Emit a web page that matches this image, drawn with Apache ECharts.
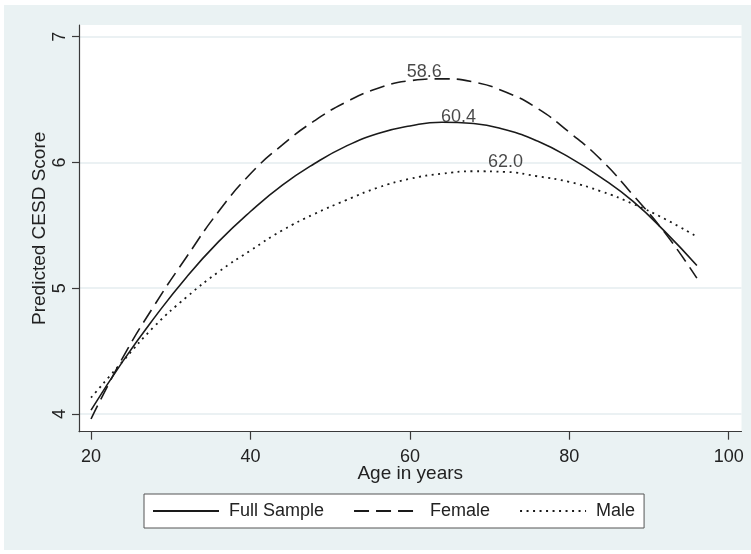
<!DOCTYPE html>
<html><head><meta charset="utf-8">
<script src="https://cdn.jsdelivr.net/npm/echarts@6/dist/echarts.min.js"></script>
<style>
html,body{margin:0;padding:0;background:#fff;}
#main{position:absolute;left:4px;top:5px;width:747px;height:545px;background:#EAF2F3;}
</style></head><body><div id="main"></div>
<script>
const ages       = [20, 24, 28, 32, 36, 40, 44, 48, 52, 56, 60, 64, 68, 72, 76, 80, 84, 88, 92, 96];
const fullSample = [4.03, 4.42, 4.77, 5.09, 5.37, 5.61, 5.82, 5.99, 6.13, 6.23, 6.29, 6.32, 6.31, 6.26, 6.17, 6.04, 5.88, 5.69, 5.45, 5.18];
const female     = [3.96, 4.45, 4.87, 5.25, 5.61, 5.91, 6.14, 6.33, 6.48, 6.59, 6.65, 6.665, 6.64, 6.56, 6.43, 6.24, 6.02, 5.74, 5.44, 5.08];
const male       = [4.13, 4.42, 4.70, 4.93, 5.13, 5.30, 5.46, 5.59, 5.70, 5.80, 5.87, 5.91, 5.93, 5.925, 5.89, 5.845, 5.77, 5.67, 5.55, 5.41];
const seriesNames = ['Full Sample', 'Female', 'Male'];
const xTicks = [20, 40, 60, 80, 100];
const yTicks = [4, 5, 6, 7];
const peakText  = ['58.6', '60.4', '62.0'];
const peakAge   = [61.8, 66.1, 72.0];
const peakScore = [6.72, 6.36, 6.00];

const FONT = "'Liberation Sans', Arial, sans-serif";
const INK = '#1a1a1a';
function pairs(ys){ return ages.map((a,i)=>[a, ys[i]]); }

const chart = echarts.init(document.getElementById('main'), null, {renderer:'canvas'});
chart.setOption({
  animation: false,
  textStyle: {fontFamily: FONT},
  grid: {left: 75, right: 9.5, top: 20, bottom: 118.3, show: true, backgroundColor: '#fff', borderWidth: 0, containLabel: false},
  xAxis: {
    type: 'value', min: 18.49, max: 101.6,
    name: 'Age in years', nameLocation: 'middle', nameGap: 33, nameMoveOverlap: false,
    nameTextStyle: {fontSize: 19, color: '#222', fontFamily: FONT},
    axisLine: {show: true, onZero: false, lineStyle: {color: '#3a3a3a', width: 1.2}},
    axisTick: {show: true, length: 8, lineStyle: {color: '#3a3a3a', width: 1.2}, customValues: xTicks},
    axisLabel: {fontSize: 18, color: '#222', margin: 16, customValues: xTicks, fontFamily: FONT},
    splitLine: {show: false}
  },
  yAxis: {
    type: 'value', min: 3.859, max: 7.093,
    name: 'Predicted CESD Score', nameLocation: 'middle', nameGap: 30, nameMoveOverlap: false,
    nameTextStyle: {fontSize: 19, color: '#222', fontFamily: FONT},
    axisLine: {show: true, onZero: false, lineStyle: {color: '#3a3a3a', width: 1.2}},
    axisTick: {show: true, length: 7, lineStyle: {color: '#3a3a3a', width: 1.2}, customValues: yTicks},
    axisLabel: {fontSize: 18, color: '#222', rotate: 90, margin: 10, customValues: yTicks, fontFamily: FONT},
    splitLine: {show: true, lineStyle: {color: '#E4ECEF', width: 1.5}}
  },
  legend: {
    data: seriesNames, left: 140, top: 489, orient: 'horizontal',
    backgroundColor: '#fff', borderColor: '#555', borderWidth: 1,
    padding: [8, 9, 8, 8], itemWidth: 66, itemHeight: 18, itemGap: 29,
    selectedMode: false,
    itemStyle: {opacity: 0, color: 'rgba(0,0,0,0)', borderWidth: 0},
    textStyle: {fontSize: 18, color: '#222', fontFamily: FONT, padding: [0, 0, 0, 5], lineHeight: 18}
  },
  series: [
    {name: seriesNames[0], type: 'line', data: pairs(fullSample), smooth: true, symbol: 'none',
     lineStyle: {color: INK, width: 1.6, type: 'solid'}, itemStyle: {color: INK}},
    {name: seriesNames[1], type: 'line', data: pairs(female), smooth: true, symbol: 'none',
     lineStyle: {color: INK, width: 1.6, type: [15, 7]}, itemStyle: {color: INK}},
    {name: seriesNames[2], type: 'line', data: pairs(male), smooth: true, symbol: 'none',
     lineStyle: {color: INK, width: 1.8, type: [2, 4.5]}, itemStyle: {color: INK}},
    {name: 'peaks', type: 'scatter', symbolSize: 0, z: 5,
     data: peakText.map((t,i)=>[peakAge[i], peakScore[i], t]),
     label: {show: true, position: 'inside', formatter: p => p.value[2], fontSize: 18, color: '#1a1a1a',
             textBorderWidth: 0, fontFamily: FONT}}
  ]
});
</script></body></html>
